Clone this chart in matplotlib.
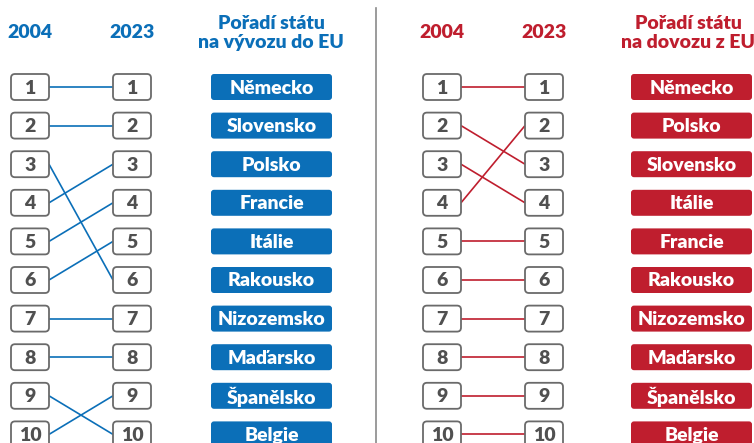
import matplotlib.pyplot as plt
from matplotlib.patches import FancyBboxPatch

plt.rcParams['font.family'] = ['Lato', 'DejaVu Sans']

BLUE = "#0b6fb8"
RED = "#bf1e2e"
GREY = "#6a6a6a"
WEIGHT = "heavy"

years = ["2004", "2023"]

export_title = "Pořadí státu\nna vývozu do EU"
export_countries = ["Německo", "Slovensko", "Polsko", "Francie", "Itálie",
                    "Rakousko", "Nizozemsko", "Maďarsko", "Španělsko", "Belgie"]
# rank in 2004 -> rank in 2023
export_2004 = [1, 2, 3, 4, 5, 6, 7, 8, 9, 10]
export_2023 = [1, 2, 6, 3, 4, 5, 7, 8, 10, 9]

import_title = "Pořadí státu\nna dovozu z EU"
import_countries = ["Německo", "Polsko", "Slovensko", "Itálie", "Francie",
                    "Rakousko", "Nizozemsko", "Maďarsko", "Španělsko", "Belgie"]
import_2004 = [1, 2, 3, 4, 5, 6, 7, 8, 9, 10]
import_2023 = [1, 3, 4, 2, 5, 6, 7, 8, 9, 10]

# layout (pixels)
ROW0 = 87
ROW_STEP = 38.6
BOX_W, BOX_H = 38, 26
LABEL_W = 121


def row_y(rank):
    return ROW0 + (rank - 1) * ROW_STEP


def rank_box(ax, x, rank):
    y = row_y(rank)
    ax.add_patch(FancyBboxPatch((x, y - BOX_H / 2), BOX_W, BOX_H,
                                boxstyle="round,pad=0,rounding_size=4",
                                fc="white", ec=GREY, lw=1.3, zorder=3))
    ax.text(x + BOX_W / 2, y + 1, str(rank), ha="center", va="center",
            fontsize=14, fontweight=WEIGHT, color="#505050", zorder=4)


def panel(ax, x0, x_lab, title_x, color, title, countries, r_from, r_to):
    x_a = x0
    x_b = x0 + 102
    ax.text(x_a + BOX_W / 2, 32, years[0], ha="center", va="center",
            fontsize=14, fontweight=WEIGHT, color=color)
    ax.text(x_b + BOX_W / 2, 32, years[1], ha="center", va="center",
            fontsize=14, fontweight=WEIGHT, color=color)
    ax.text(title_x, 33, title, ha="center", va="center",
            fontsize=14, fontweight=WEIGHT, color=color, linespacing=1.1)
    for a, b in zip(r_from, r_to):
        ax.plot([x_a + BOX_W, x_b], [row_y(a), row_y(b)], color=color,
                lw=1.2, zorder=2, solid_capstyle="butt")
    for r in r_from:
        rank_box(ax, x_a, r)
    for r in sorted(r_to):
        rank_box(ax, x_b, r)
    for i, name in enumerate(countries):
        y = row_y(i + 1)
        ax.add_patch(FancyBboxPatch((x_lab, y - BOX_H / 2), LABEL_W, BOX_H,
                                    boxstyle="round,pad=0,rounding_size=3",
                                    fc=color, ec="none", zorder=3))
        ax.text(x_lab + LABEL_W / 2, y + 1, name, ha="center", va="center",
                fontsize=14, fontweight=WEIGHT, color="white", zorder=4)


fig = plt.figure(figsize=(7.54, 4.43), dpi=100)
ax = fig.add_axes([0, 0, 1, 1])
ax.set_xlim(0, 754)
ax.set_ylim(443, 0)
ax.axis("off")

panel(ax, 11, 211, 271, BLUE, export_title, export_countries,
      export_2004, export_2023)
panel(ax, 423, 631, 688, RED, import_title, import_countries,
      import_2004, import_2023)

ax.plot([376, 376], [8, 443], color="#8a8a8a", lw=1.2)

fig.savefig("out.png", dpi=100)
